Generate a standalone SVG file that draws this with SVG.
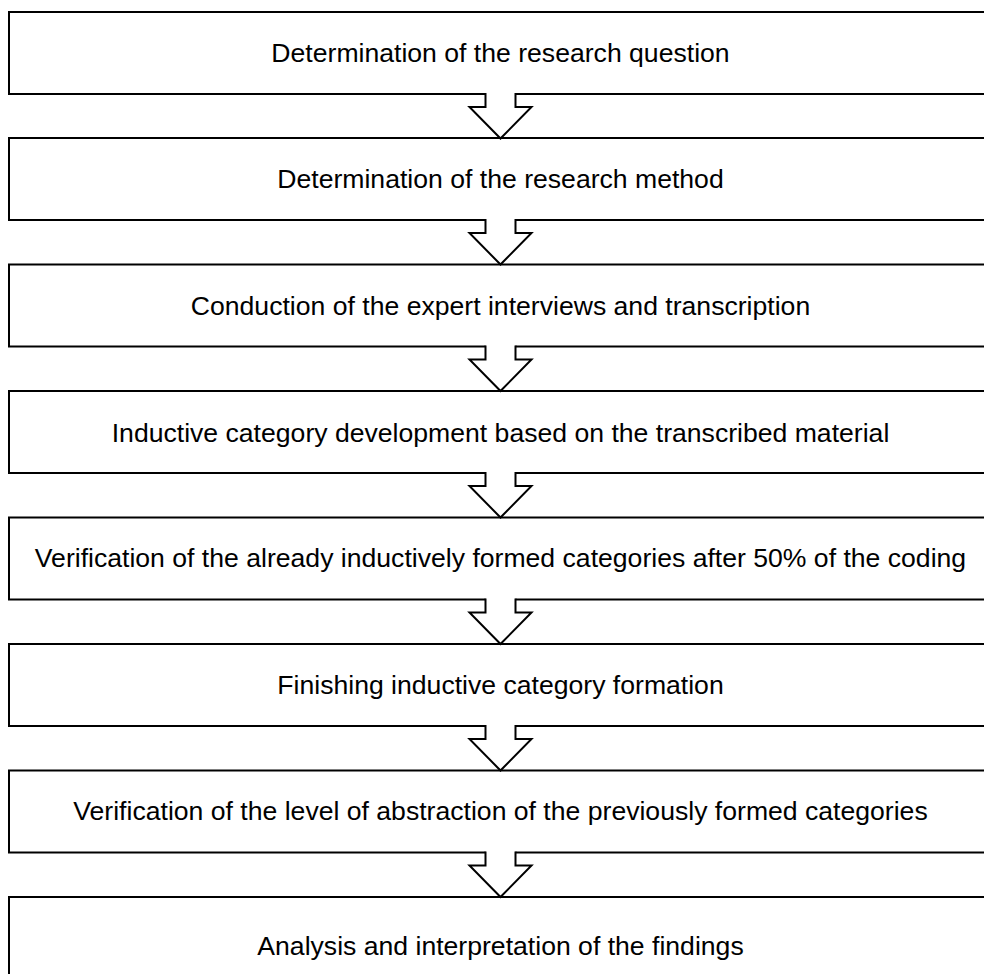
<svg xmlns="http://www.w3.org/2000/svg" xmlns:xlink="http://www.w3.org/1999/xlink" width="984" height="974" viewBox="0 0 984 974">
<style>
.box{fill:#fff;stroke:#000;stroke-width:2}
.lbl{font-family:"Liberation Sans",Arial,sans-serif;font-size:26.6px;fill:#000;text-anchor:middle}
</style>
<defs>
<g id="arrow">
<path d="M-15,-2 V13 H-31 L0,44.5 L31,13 H15 V-2 Z" fill="#fff" stroke="none"/>
<path d="M-15,-1 V13 H-31 L0,44.5 L31,13 H15 V-1" fill="none" stroke="#000" stroke-width="2" stroke-linejoin="miter"/>
</g>
</defs>
<rect width="984" height="974" fill="#fff"/>
<g id="n1"><rect class="box" x="9" y="12" width="983" height="82"/><text class="lbl" x="500.5" y="62">Determination of the research question</text></g>
<g id="n2"><rect class="box" x="9" y="138" width="983" height="82"/><text class="lbl" x="500.5" y="188">Determination of the research method</text></g>
<g id="n3"><rect class="box" x="9" y="264.5" width="983" height="82"/><text class="lbl" x="500.5" y="314.5">Conduction of the expert interviews and transcription</text></g>
<g id="n4"><rect class="box" x="9" y="391" width="983" height="82"/><text class="lbl" x="500.5" y="441.5">Inductive category development based on the transcribed material</text></g>
<g id="n5"><rect class="box" x="9" y="517.5" width="983" height="82"/><text class="lbl" x="500.5" y="567.3">Verification of the already inductively formed categories after 50% of the coding</text></g>
<g id="n6"><rect class="box" x="9" y="644" width="983" height="82"/><text class="lbl" x="500.5" y="694">Finishing inductive category formation</text></g>
<g id="n7"><rect class="box" x="9" y="770.5" width="983" height="82"/><text class="lbl" x="500.5" y="820.3">Verification of the level of abstraction of the previously formed categories</text></g>
<g id="n8"><rect class="box" x="9" y="897" width="983" height="97"/><text class="lbl" x="500.5" y="955">Analysis and interpretation of the findings</text></g>
<g id="connectors">
<use xlink:href="#arrow" transform="translate(500.5,94)"/>
<use xlink:href="#arrow" transform="translate(500.5,220)"/>
<use xlink:href="#arrow" transform="translate(500.5,346.5)"/>
<use xlink:href="#arrow" transform="translate(500.5,473)"/>
<use xlink:href="#arrow" transform="translate(500.5,599.5)"/>
<use xlink:href="#arrow" transform="translate(500.5,726)"/>
<use xlink:href="#arrow" transform="translate(500.5,852.5)"/>
</g>
</svg>
